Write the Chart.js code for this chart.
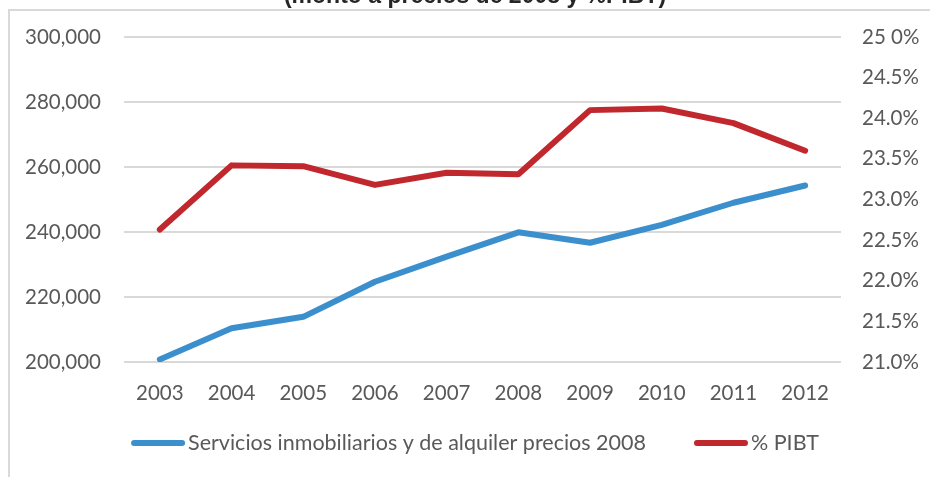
<!DOCTYPE html>
<html>
<head>
<meta charset="utf-8">
<script src="https://cdn.jsdelivr.net/npm/chart.js@4.4.1/dist/chart.umd.min.js"></script>
<style>
  html, body { margin: 0; padding: 0; background: #fff; }
  #wrap { position: relative; width: 930px; height: 477px; }
</style>
</head>
<body>
<div id="wrap"><canvas id="chart" width="930" height="477"></canvas></div>
<script>
// data
var years = ["2003", "2004", "2005", "2006", "2007", "2008", "2009", "2010", "2011", "2012"];
var servicios = [200800, 210400, 213900, 224700, 232400, 239900, 236700, 242200, 249000, 254300];
var pibt = [22.63, 23.42, 23.41, 23.18, 23.33, 23.31, 24.10, 24.12, 23.94, 23.60];
var rightTicks = ["21.0%", "21.5%", "22.0%", "22.5%", "23.0%", "23.5%", "24.0%", "24.5%", "25 0%"];
var titleText = "(monto a precios de 2008 y %PIBT)";

var blue = "#3c8fcd";
var red = "#c0282e";
var grey = "#595959";
var fontName = "Lato";

// frame, cut-off title and the legend
var decor = {
  id: "decor",
  beforeDraw: function(chart) {
    var c = chart.ctx;
    c.save();
    c.strokeStyle = "#d9d9d9";
    c.lineWidth = 2;
    c.beginPath();
    c.moveTo(9, 480);
    c.lineTo(9, 10);
    c.lineTo(935, 10);
    c.stroke();
    c.restore();
  },
  afterDraw: function(chart) {
    var c = chart.ctx;
    c.save();
    c.fillStyle = "#262626";
    c.font = "bold 23px 'Liberation Sans'";
    c.textAlign = "center";
    c.textBaseline = "alphabetic";
    c.fillText(titleText, 475, 3);

    // legend
    c.font = "21.5px " + fontName;
    c.textBaseline = "middle";
    c.textAlign = "left";
    var ds = chart.data.datasets;
    var boxW = 54, gapText = 3, gapItem = 48, y = 443;
    var total = 0;
    for (var i = 0; i < ds.length; i++) {
      total += boxW + gapText + c.measureText(ds[i].label).width;
      if (i > 0) total += gapItem;
    }
    var x = 475 - total / 2;
    for (var j = 0; j < ds.length; j++) {
      c.strokeStyle = ds[j].borderColor;
      c.lineWidth = 6;
      c.lineCap = "round";
      c.beginPath();
      c.moveTo(x + 3, y);
      c.lineTo(x + boxW - 3, y);
      c.stroke();
      x += boxW + gapText;
      c.fillStyle = grey;
      c.fillText(ds[j].label, x, y);
      x += c.measureText(ds[j].label).width + gapItem;
    }
    c.restore();
  }
};

var ctx = document.getElementById("chart");
var tickFont = { family: fontName, size: 20.5 };

var chart = new Chart(ctx, {
  type: "line",
  data: {
    labels: years,
    datasets: [
      {
        label: "Servicios inmobiliarios y de alquiler precios 2008",
        data: servicios,
        yAxisID: "y",
        borderColor: blue,
        backgroundColor: blue,
        borderWidth: 6,
        borderCapStyle: "round",
        borderJoinStyle: "round",
        pointRadius: 0,
        tension: 0,
        fill: false
      },
      {
        label: "% PIBT",
        data: pibt,
        yAxisID: "y1",
        borderColor: red,
        backgroundColor: red,
        borderWidth: 6,
        borderCapStyle: "round",
        borderJoinStyle: "round",
        pointRadius: 0,
        tension: 0,
        fill: false
      }
    ]
  },
  options: {
    responsive: false,
    animation: false,
    devicePixelRatio: 1,
    layout: { padding: { top: 37, bottom: 0, left: 0, right: 0 } },
    plugins: {
      legend: { display: false },
      title: { display: false },
      tooltip: { enabled: false }
    },
    scales: {
      x: {
        offset: true,
        grid: { display: false, drawTicks: false },
        border: { display: false },
        ticks: { color: grey, font: tickFont, padding: 19, maxRotation: 0 },
        afterFit: function(s) { s.height = 115; }
      },
      y: {
        position: "left",
        min: 200000,
        max: 300000,
        grid: { color: "#d9d9d9", lineWidth: 2, drawTicks: false },
        border: { display: false },
        ticks: {
          stepSize: 20000,
          color: grey,
          font: tickFont,
          padding: 23,
          callback: function(v) { return v.toLocaleString("en-US"); }
        },
        afterFit: function(s) { s.width = 124; }
      },
      y1: {
        position: "right",
        min: 21,
        max: 25,
        grid: { display: false, drawTicks: false },
        border: { display: false },
        ticks: {
          stepSize: 0.5,
          color: grey,
          font: tickFont,
          padding: 21,
          callback: function(v, i) { return rightTicks[i]; }
        },
        afterFit: function(s) { s.width = 89; }
      }
    }
  },
  plugins: [decor]
});
</script>
</body>
</html>
